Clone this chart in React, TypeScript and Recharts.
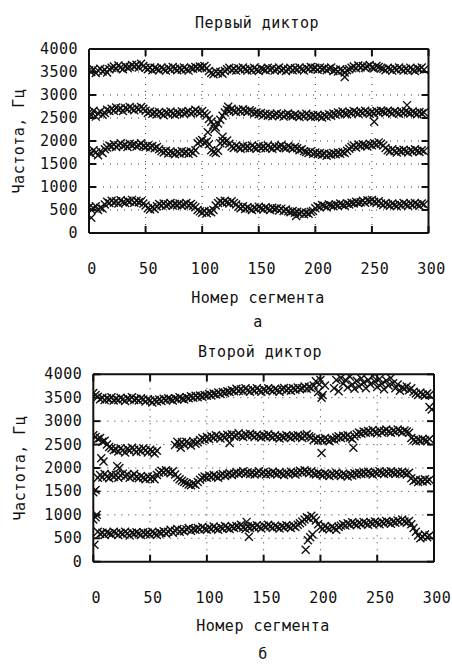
import { ScatterChart, Scatter, XAxis, YAxis, CartesianGrid } from 'recharts';

const xTicks = [0, 50, 100, 150, 200, 250, 300];
const yTicks = [0, 500, 1000, 1500, 2000, 2500, 3000, 3500, 4000];

// formant values, one every 2 segments (0, 2, 4 ... 296)
// first speaker
const s1f4 = [
  3540, 3500, 3560, 3480, 3530, 3570, 3510, 3550, 3490, 3560,
  3590, 3620, 3570, 3640, 3600, 3560, 3630, 3590, 3610, 3650,
  3620, 3660, 3600, 3680, 3630, 3590, 3560, 3600, 3540, 3590,
  3570, 3540, 3600, 3560, 3530, 3590, 3550, 3610, 3570, 3540,
  3580, 3550, 3600, 3560, 3530, 3590, 3570, 3610, 3580, 3620,
  3600, 3630, 3580, 3520, 3480, 3450, 3510, 3470, 3500, 3460,
  3520, 3560, 3590, 3540, 3570, 3530, 3580, 3550, 3600, 3560,
  3530, 3570, 3540, 3590, 3550, 3520, 3580, 3560, 3540, 3590,
  3550, 3580, 3530, 3560, 3600, 3540, 3570, 3520, 3560, 3590,
  3540, 3580, 3550, 3600, 3560, 3530, 3590, 3560, 3610, 3570,
  3590, 3550, 3600, 3560, 3580, 3540, 3570, 3600, 3520, 3550,
  3510, 3560, 3530, 3490, 3540, 3560, 3590, 3620, 3580, 3640,
  3600, 3630, 3590, 3620, 3650, 3600, 3580, 3630, 3610, 3580,
  3570, 3540, 3590, 3560, 3530, 3580, 3550, 3600, 3560, 3530,
  3570, 3540, 3590, 3550, 3520, 3580, 3560, 3600, 3550,
];
const s1f3 = [
  2620, 2560, 2660, 2530, 2600, 2640, 2570, 2610, 2680, 2650,
  2700, 2660, 2730, 2680, 2710, 2650, 2720, 2690, 2740, 2700,
  2670, 2720, 2690, 2740, 2700, 2660, 2610, 2640, 2590, 2620,
  2580, 2630, 2600, 2560, 2620, 2590, 2640, 2600, 2570, 2620,
  2600, 2640, 2590, 2620, 2650, 2600, 2630, 2680, 2640, 2610,
  2650, 2600, 2560, 2480, 2420, 2350, 2300, 2380, 2460, 2550,
  2620, 2680, 2650, 2700, 2660, 2630, 2680, 2640, 2690, 2660,
  2630, 2670, 2640, 2600, 2620, 2580, 2610, 2560, 2590, 2550,
  2580, 2540, 2570, 2600, 2550, 2580, 2530, 2570, 2600, 2560,
  2540, 2580, 2550, 2520, 2570, 2540, 2590, 2550, 2520, 2560,
  2530, 2570, 2540, 2510, 2560, 2530, 2580, 2550, 2600, 2570,
  2620, 2590, 2640, 2600, 2580, 2630, 2610, 2650, 2620, 2590,
  2640, 2610, 2660, 2620, 2590, 2630, 2600, 2650, 2620, 2660,
  2640, 2610, 2660, 2630, 2600, 2650, 2620, 2590, 2640, 2610,
  2650, 2620, 2600, 2640, 2610, 2580, 2630, 2600, 2620,
];
const s1f2 = [
  1760, 1720, 1800, 1750, 1690, 1780, 1740, 1820, 1860, 1900,
  1880, 1930, 1870, 1910, 1950, 1890, 1920, 1870, 1940, 1900,
  1930, 1880, 1910, 1950, 1890, 1870, 1900, 1860, 1890, 1840,
  1870, 1820, 1780, 1750, 1790, 1730, 1770, 1740, 1710, 1760,
  1730, 1780, 1740, 1760, 1720, 1770, 1740, 1800, 1950, 1990,
  2020, 1960, 1990, 1930, 1800, 1760, 1740, 1790, 1950, 2000,
  1970, 2010, 1940, 1880, 1850, 1900, 1860, 1830, 1890, 1850,
  1880, 1840, 1900, 1860, 1830, 1890, 1850, 1880, 1840, 1900,
  1860, 1830, 1890, 1850, 1880, 1910, 1860, 1840, 1890, 1860,
  1830, 1870, 1840, 1800, 1820, 1780, 1760, 1740, 1770, 1720,
  1750, 1710, 1740, 1700, 1730, 1680, 1720, 1700, 1740, 1710,
  1750, 1720, 1760, 1740, 1790, 1830, 1870, 1900, 1860, 1920,
  1890, 1930, 1900, 1880, 1940, 1910, 1950, 1920, 1970, 1940,
  1900, 1850, 1800, 1770, 1820, 1780, 1750, 1800, 1770, 1810,
  1780, 1750, 1800, 1770, 1820, 1790, 1760, 1800, 1780,
];
const s1f1 = [
  560, 510, 540, 580, 500, 550, 530, 620, 680, 650,
  700, 660, 690, 640, 710, 670, 650, 700, 680, 720,
  660, 700, 670, 690, 640, 600, 540, 510, 560, 520,
  580, 630, 600, 640, 590, 620, 650, 600, 630, 610,
  640, 590, 620, 650, 600, 630, 590, 560, 500, 470,
  440, 480, 430, 470, 450, 500, 600, 650, 690, 660,
  700, 670, 640, 690, 650, 620, 570, 540, 580, 520,
  560, 530, 500, 550, 520, 570, 540, 510, 560, 530,
  500, 550, 520, 540, 490, 530, 480, 510, 470, 450,
  480, 440, 460, 420, 450, 410, 440, 420, 460, 480,
  540, 580, 560, 610, 590, 560, 620, 600, 580, 620,
  600, 640, 610, 590, 640, 620, 660, 640, 680, 650,
  670, 700, 660, 710, 690, 720, 680, 650, 690, 640,
  610, 650, 620, 590, 640, 610, 580, 630, 600, 650,
  620, 590, 640, 610, 650, 620, 590, 640, 620,
];
// stray points [segment, Hz]
const s1Stray = [
  [2, 330], [105, 2190], [111, 2260], [118, 2090], [123, 2745],
  [183, 370], [226, 3390], [252, 2420], [281, 2780],
];

// second speaker
const s2f4 = [
  3600, 3560, 3520, 3470, 3500, 3450, 3490, 3460, 3510, 3440,
  3480, 3450, 3500, 3470, 3430, 3490, 3460, 3510, 3450, 3480,
  3440, 3490, 3460, 3420, 3470, 3440, 3400, 3450, 3420, 3460,
  3430, 3480, 3450, 3490, 3460, 3440, 3490, 3470, 3510, 3480,
  3460, 3510, 3490, 3530, 3500, 3540, 3510, 3550, 3520, 3560,
  3540, 3580, 3550, 3590, 3570, 3610, 3580, 3620, 3600, 3640,
  3620, 3660, 3640, 3690, 3650, 3680, 3640, 3700, 3660, 3630,
  3680, 3650, 3700, 3660, 3630, 3680, 3650, 3700, 3670, 3640,
  3690, 3660, 3630, 3680, 3710, 3660, 3690, 3650, 3700, 3670,
  3720, 3680, 3700, 3740, 3690, 3730, 3700, 3760, 3850, 3620,
  3880, 3560, 3760, null, null, null, 3700, 3880, 3640, 3920,
  3800, 3880, 3720, 3950, 3780, 3690, 3860, 3740, 3910, 3820,
  3700, 3880, 3790, 3960, 3840, 3730, 3900, 3800, 3680, 3870,
  3760, 3920, 3810, 3700, 3780, 3650, 3720, 3690, 3740, 3660,
  3700, 3630, 3590, 3560, 3610, 3570, 3540, 3590, 3560,
];
const s2f3 = [
  2700, 2660, 2620, 2640, 2560, 2580, 2500, 2450, 2420, 2380,
  2400, 2350, 2420, 2380, 2330, 2410, 2370, 2430, 2390, 2340,
  2400, 2360, 2420, 2380, 2330, 2390, 2350, 2310, 2370, null,
  null, null, null, null, null, null, 2490, 2560, 2510, 2550,
  2500, 2560, 2530, 2480, 2570, 2520, 2550, 2600, 2640, 2610,
  2660, 2620, 2680, 2640, 2700, 2660, 2630, 2690, 2650, 2710,
  2680, 2720, 2670, 2700, 2740, 2690, 2660, 2720, 2690, 2730,
  2700, 2660, 2710, 2680, 2650, 2700, 2670, 2720, 2680, 2650,
  2700, 2660, 2630, 2680, 2650, 2700, 2670, 2640, 2690, 2660,
  2700, 2670, 2640, 2690, 2720, 2680, 2650, 2600, 2630, 2580,
  2620, 2590, 2640, 2600, 2570, 2620, 2610, 2650, 2680, 2640,
  2690, 2660, 2700, 2650, 2620, 2680, 2720, 2760, 2730, 2780,
  2750, 2790, 2760, 2810, 2770, 2740, 2800, 2760, 2790, 2820,
  2780, 2750, 2800, 2770, 2820, 2790, 2760, 2800, 2780, 2750,
  2640, 2600, 2570, 2610, 2580, 2620, 2590, 2570, 2620,
];
const s2f2 = [
  1480, 1530, 1790, 1850, 1800, 1870, 1820, 1780, 1860, 1810,
  1850, 1790, 1840, 1880, 1820, 1860, 1790, 1830, 1870, 1810,
  1780, 1830, 1790, 1760, 1820, 1770, 1810, 1760, 1850, 1900,
  1940, 1910, 1950, 1920, 1890, 1930, 1860, 1800, 1760, 1730,
  1700, 1680, 1650, 1630, 1670, 1640, 1700, 1750, 1790, 1820,
  1790, 1840, 1810, 1850, 1820, 1790, 1840, 1870, 1830, 1860,
  1890, 1850, 1880, 1910, 1870, 1900, 1930, 1880, 1910, 1870,
  1900, 1860, 1890, 1930, 1880, 1910, 1860, 1900, 1870, 1920,
  1890, 1860, 1910, 1880, 1850, 1900, 1870, 1920, 1890, 1860,
  1900, 1940, 1910, 1950, 1920, 1890, 1930, 1880, 1860, 1900,
  1870, 1840, 1890, 1860, 1830, 1880, 1850, 1900, 1860, 1830,
  1880, 1850, 1820, 1870, 1840, 1890, 1860, 1900, 1870, 1910,
  1880, 1920, 1890, 1860, 1910, 1880, 1930, 1900, 1870, 1920,
  1890, 1930, 1900, 1870, 1910, 1880, 1920, 1890, 1860, 1900,
  1780, 1720, 1750, 1700, 1740, 1710, 1760, 1720, 1750,
];
const s2f1 = [
  900, 950, 640, 590, 620, 570, 630, 600, 580, 640,
  610, 570, 620, 590, 640, 600, 560, 620, 590, 630,
  600, 570, 630, 590, 620, 580, 640, 600, 570, 630,
  610, 650, 600, 640, 680, 620, 660, 700, 640, 680,
  650, 690, 720, 660, 700, 680, 720, 690, 740, 700,
  680, 730, 700, 750, 710, 680, 740, 710, 760, 720,
  700, 750, 720, 760, 740, 790, 730, 700, 750, 720,
  760, 730, 780, 740, 710, 770, 740, 790, 750, 720,
  770, 740, 710, 760, 730, 780, 750, 720, 770, 740,
  790, 820, 860, 900, 950, 920, 980, 940, 880, 800,
  740, 700, 760, 720, 690, 750, 720, 680, 740, 770,
  800, 770, 820, 790, 840, 810, 780, 830, 800, 850,
  820, 790, 840, 810, 860, 830, 800, 850, 820, 870,
  840, 810, 860, 830, 880, 850, 900, 860, 830, 870,
  800, 720, 640, 560, 500, 530, 580, 520, 560,
];
const s2Stray = [
  [1, 360], [3, 1000], [7, 2207], [9, 2140], [21, 2040], [23, 2000],
  [77, 2430], [120, 2535], [135, 850], [137, 530], [187, 256], [189, 460],
  [191, 520], [193, 580], [199, 3780], [201, 3500], [201, 2320], [229, 2430],
  [296, 3300], [298, 3250],
];

const FONT = '"DejaVu Sans Mono", monospace';
const INK = '#111';
const TICK = 7;

const toPoints = (vals: (number | null)[]) =>
  vals.flatMap((v, i) => (v == null ? [] : [{ x: i * 2, y: v }]));
const strayPoints = (pairs: number[][]) => pairs.map(([x, y]) => ({ x, y }));

const Cross = (props: any) => {
  const { cx, cy } = props;
  if (cx == null || cy == null) return null;
  const r = 4;
  return (
    <path
      d={`M${cx - r},${cy - r}L${cx + r},${cy + r}M${cx - r},${cy + r}L${cx + r},${cy - r}`}
      stroke={INK}
      strokeWidth={1.4}
      fill="none"
    />
  );
};

const labelStyle = { fontFamily: FONT, fontSize: 15, letterSpacing: 0.5, fill: INK };

const BottomTick = (p: any) => (
  <g>
    <line x1={p.x} x2={p.x} y1={p.y} y2={p.y - TICK} stroke={INK} strokeWidth={2} />
    <text x={p.x + 3} y={p.y + 36} textAnchor="middle" dominantBaseline="central" style={labelStyle}>
      {p.payload.value}
    </text>
  </g>
);
const TopTick = (p: any) => (
  <line x1={p.x} x2={p.x} y1={p.y} y2={p.y + TICK} stroke={INK} strokeWidth={2} />
);
const LeftTick = (p: any) => (
  <g>
    <line x1={p.x} x2={p.x + TICK} y1={p.y} y2={p.y} stroke={INK} strokeWidth={2} />
    <text x={p.x - 11} y={p.y} textAnchor="end" dominantBaseline="central" style={labelStyle}>
      {p.payload.value}
    </text>
  </g>
);
const RightTick = (p: any) => (
  <line x1={p.x} x2={p.x - TICK} y1={p.y} y2={p.y} stroke={INK} strokeWidth={2} />
);

const border = { stroke: INK, strokeWidth: 2 };

interface PanelProps {
  top: number;
  margin: { top: number; right: number; bottom: number; left: number };
  formants: (number | null)[][];
  stray: number[][];
}

function Panel({ top, margin, formants, stray }: PanelProps) {
  return (
    <div style={{ position: 'absolute', left: 0, top }}>
      <ScatterChart width={452} height={332} margin={margin}>
        <CartesianGrid stroke="#333" strokeDasharray="1 6" />
        <XAxis type="number" dataKey="x" domain={[0, 300]} ticks={xTicks} interval={0}
          allowDataOverflow height={40} tickSize={0} tickMargin={0} tickLine={false}
          axisLine={border} tick={BottomTick} />
        <XAxis xAxisId="top" orientation="top" type="number" dataKey="x" domain={[0, 300]}
          ticks={xTicks} interval={0} allowDataOverflow height={1} tickSize={0} tickMargin={0}
          tickLine={false} axisLine={border} tick={TopTick} />
        <YAxis type="number" dataKey="y" domain={[0, 4000]} ticks={yTicks} interval={0}
          allowDataOverflow width={60} tickSize={0} tickMargin={0} tickLine={false}
          axisLine={border} tick={LeftTick} />
        <YAxis yAxisId="right" orientation="right" type="number" dataKey="y" domain={[0, 4000]}
          ticks={yTicks} interval={0} allowDataOverflow width={1} tickSize={0} tickMargin={0}
          tickLine={false} axisLine={border} tick={RightTick} />
        {formants.map((f, i) => (
          <Scatter key={i} data={toPoints(f)} shape={Cross} isAnimationActive={false} />
        ))}
        <Scatter data={strayPoints(stray)} shape={Cross} isAnimationActive={false} />
      </ScatterChart>
    </div>
  );
}

const textBase: React.CSSProperties = {
  position: 'absolute',
  fontFamily: FONT,
  fontSize: 15,
  letterSpacing: 0.5,
  color: INK,
  whiteSpace: 'nowrap',
  lineHeight: '15px',
};

function Caption({ x, y, text, rotate }: { x: number; y: number; text: string; rotate?: boolean }) {
  return (
    <div
      style={{
        ...textBase,
        left: x,
        top: y,
        transform: `translate(-50%, -50%)${rotate ? ' rotate(-90deg)' : ''}`,
      }}
    >
      {text}
    </div>
  );
}

export default function App() {
  return (
    <div style={{ position: 'absolute', left: 0, top: 0, width: 452, height: 664, background: '#fff', overflow: 'hidden' }}>
      <Panel
        top={0}
        margin={{ top: 48, right: 22.5, bottom: 59, left: 29 }}
        formants={[s1f4, s1f3, s1f2, s1f1]}
        stray={s1Stray}
      />
      <Panel
        top={332}
        margin={{ top: 41.3, right: 17, bottom: 62.3, left: 33.3 }}
        formants={[s2f4, s2f3, s2f2, s2f1]}
        stray={s2Stray}
      />
      <Caption x={257} y={23} text="Первый диктор" />
      <Caption x={19} y={141} text="Частота, Гц" rotate />
      <Caption x={258} y={298} text="Номер сегмента" />
      <Caption x={258} y={322} text="а" />
      <Caption x={260} y={352} text="Второй диктор" />
      <Caption x={20} y={468} text="Частота, Гц" rotate />
      <Caption x={263} y={626} text="Номер сегмента" />
      <Caption x={263} y={654} text="б" />
    </div>
  );
}
